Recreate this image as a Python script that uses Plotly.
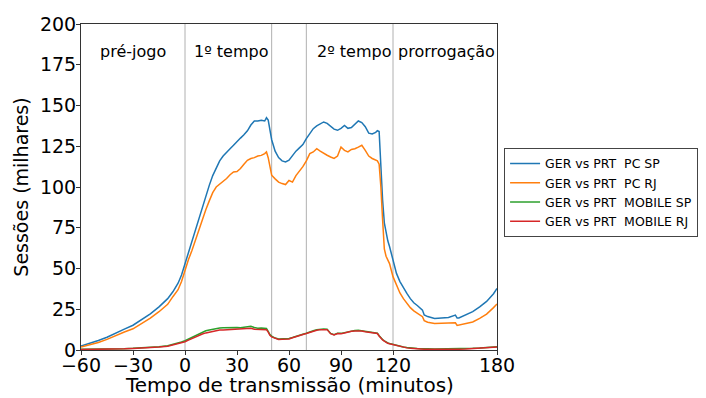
import plotly.graph_objects as go

minutos = [-60, -55, -50, -45, -40, -35, -30, -25, -20, -15, -10, -7, -4, -2,
           0, 2, 4, 6, 8, 10, 12, 14, 16, 18, 20, 22, 24, 26, 28, 30, 32, 34,
           36, 38, 40, 42, 44, 46, 47, 48, 49, 50, 52, 54, 56, 58, 60, 62, 64,
           66, 68, 70, 72, 74, 76, 78, 80, 82, 84, 86, 88, 90, 92, 94, 96, 98,
           100, 102, 104, 106, 108, 110, 111, 112, 113, 114, 115, 116, 117, 118,
           120, 122, 124, 126, 128, 130, 132, 134, 136, 137, 138, 140, 144, 148,
           152, 156, 157, 158, 162, 166, 170, 174, 178, 180]

pc_sp = [2.5, 4, 5.8, 7.8, 10.5, 12.8, 15.2, 18.5, 22.2, 26.5, 31.5, 35.7, 41, 46,
         53, 60, 67, 74, 81, 88, 95, 101, 107, 112, 116, 119, 121.5, 123.5, 125.6, 127.5, 130, 132,
         134.5, 138, 140.5, 140.5, 141, 140.5, 142.5, 141, 135, 129, 122, 118, 116, 115.4, 116.5, 119.5, 122,
         124, 126, 129.7, 133, 135.8, 137.5, 138.5, 139.9, 139, 137, 135.5, 134.8, 136, 137.8, 136, 136.5, 138.5,
         140.5, 139.5, 137, 133, 132.5, 133.5, 134.5, 134, 112, 92, 78, 72, 67, 63.5,
         56, 47, 42, 38, 34.7, 31.5, 29, 27.3, 25.8, 24.5, 21.5, 20.5, 19.4, 19.6,
         20, 21.4, 19.6, 19.6, 21.5, 23.5, 26.5, 29.8, 34.5, 37.8]

pc_rj = [1.8, 3.2, 4.6, 6.5, 9, 11, 13, 16, 19.5, 23.5, 28, 32.7, 37, 42,
         49, 55.5, 61, 67.5, 73.5, 79.5, 86, 91.5, 96.5, 100, 101.7, 103.5, 105.2, 107.5, 109.2, 109.5, 111.3, 114,
         116.4, 117.5, 118, 119, 119.4, 120.5, 121.5, 118, 112, 107.2, 105, 103, 102.1, 101.5, 104, 103, 107,
         109.5, 112.5, 116, 120.5, 121.5, 123.5, 122, 120.5, 119.5, 118.4, 117.5, 119, 124.5, 122.5, 121.5, 123, 123.5,
         124.5, 125.6, 122.5, 119, 117.5, 116.5, 116, 114, 100, 80, 62, 57.5, 55, 53,
         45, 39.8, 35, 31.5, 28.6, 26, 24, 22.5, 21.3, 20.4, 18, 17, 16.3, 16.3,
         16.3, 16.7, 15.1, 15.3, 16, 17.2, 19.4, 22, 26, 28.2]

mobile_sp = [0.4, 0.4, 0.5, 0.6, 0.7, 0.8, 1.0, 1.2, 1.6, 2.0, 2.6, 3.3, 4.2, 4.9,
             5.7, 6.8, 7.9, 9, 10, 11, 11.8, 12.3, 12.8, 13.2, 13.5, 13.7, 13.8, 13.9, 13.6, 13.8, 13.7, 13.9,
             14.1, 14.5, 13.8, 13.4, 13.5, 13.3, 13.2, 11.5, 9.5, 8.5, 7.3, 6.8, 6.8, 6.9, 7.1, 7.7, 8.5,
             9.2, 9.7, 10.3, 11.2, 11.8, 12.4, 12.7, 12.9, 12.7, 10.2, 9.4, 10.3, 10.2, 10.6, 11.3, 11.8, 12.0,
             12.1, 11.8, 11.4, 11.0, 10.8, 10.5, 10.3, 8.8, 7.3, 6.4, 5.6, 4.8, 4.3, 4.0,
             3.4, 2.9, 2.3, 1.8, 1.5, 1.2, 1.0, 0.9, 0.8, 0.7, 0.7, 0.7, 0.6, 0.6,
             0.6, 0.7, 0.7, 0.7, 0.8, 1.0, 1.2, 1.5, 1.8, 2.0]

mobile_rj = [0.3, 0.3, 0.4, 0.5, 0.6, 0.7, 0.9, 1.1, 1.4, 1.8, 2.3, 3.0, 3.8, 4.4,
             5.1, 6.1, 7.1, 8.1, 9, 9.8, 10.5, 11, 11.5, 11.9, 12.2, 12.3, 12.4, 12.5, 12.4, 12.5, 12.6, 12.8,
             13.0, 13.3, 12.8, 12.6, 12.7, 12.6, 12.5, 11, 9, 8.0, 7.0, 6.5, 6.6, 6.7, 6.8, 7.5, 8.3,
             9.0, 9.5, 10.1, 10.9, 11.5, 12.1, 12.5, 12.7, 12.5, 10.0, 9.2, 10.1, 10.0, 10.4, 11.0, 11.5, 11.7,
             11.8, 11.6, 11.2, 10.8, 10.6, 10.3, 10.1, 8.6, 7.1, 6.2, 5.4, 4.6, 4.1, 3.8,
             3.2, 2.7, 2.1, 1.6, 1.3, 1.0, 0.8, 0.7, 0.6, 0.5, 0.5, 0.5, 0.4, 0.4,
             0.4, 0.5, 0.5, 0.5, 0.6, 0.8, 1.0, 1.3, 1.6, 1.8]

series_nomes = ["GER vs PRT\u00a0 PC SP", "GER vs PRT\u00a0 PC RJ",
                "GER vs PRT\u00a0 MOBILE SP", "GER vs PRT\u00a0 MOBILE RJ"]
series_valores = [pc_sp, pc_rj, mobile_sp, mobile_rj]
cores = ["#1f77b4", "#ff7f0e", "#2ca02c", "#d62728"]

limites = [0, 50, 70, 120]
fases = ["pré-jogo", "1º tempo", "2º tempo", "prorrogação"]
fases_x = [-50, 4, 75, 122]
fases_y = 183

x_ticks = [-60, -30, 0, 30, 60, 90, 120, 180]
y_ticks = [0, 25, 50, 75, 100, 125, 150, 175, 200]
titulo_x = "Tempo de transmissão (minutos)"
titulo_y = "Sessões (milhares)"

fig = go.Figure()
for nome, vals, cor in zip(series_nomes, series_valores, cores):
    fig.add_trace(go.Scatter(x=minutos, y=vals, mode="lines", name=nome,
                             line=dict(color=cor, width=1.5)))

for lim in limites:
    fig.add_shape(type="line", xref="x", yref="paper", x0=lim, x1=lim, y0=0, y1=1,
                  line=dict(color="#b0b0b0", width=1), layer="below")

for txt, fx in zip(fases, fases_x):
    fig.add_annotation(x=fx, y=fases_y, xref="x", yref="y", text=txt, showarrow=False,
                       xanchor="left", yanchor="middle",
                       font=dict(family="DejaVu Sans", size=16, color="black"))

# x-axis title as annotation (placed just below tick labels)
fig.add_annotation(x=0.5, y=-0.149, xref="paper", yref="paper", text=titulo_x,
                   showarrow=False, xanchor="center", yanchor="bottom",
                   font=dict(family="DejaVu Sans", size=20, color="black"))

axis_common = dict(showline=True, mirror=True, linecolor="#333333", linewidth=1,
                   ticks="outside", ticklen=4, tickcolor="#333333", showgrid=False,
                   zeroline=False, automargin=False,
                   tickfont=dict(family="DejaVu Sans", size=19, color="black"))

fig.update_layout(
    width=698, height=390,
    margin=dict(l=73, r=209, t=16, b=48, autoexpand=False),
    paper_bgcolor="white", plot_bgcolor="white",
    font=dict(family="DejaVu Sans", color="black"),
    xaxis=dict(range=[-60, 180], tickvals=x_ticks, ticklabelstandoff=-6,
               **axis_common),
    yaxis=dict(range=[0, 200], tickvals=y_ticks, ticklabelstandoff=-4,
               title=dict(text=titulo_y, standoff=6,
                          font=dict(family="DejaVu Sans", size=19)),
               **axis_common),
    legend=dict(x=1.017, y=0.62, xanchor="left", yanchor="top",
                bordercolor="#444444", borderwidth=1, bgcolor="white",
                font=dict(family="DejaVu Sans", size=12.5), tracegroupgap=0),
    showlegend=True,
)

fig.write_html("out.html")
